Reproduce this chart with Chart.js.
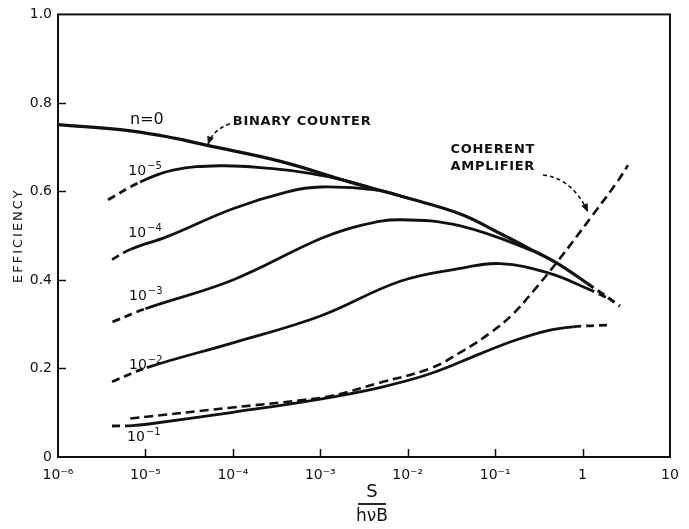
<!DOCTYPE html>
<html><head><meta charset="utf-8">
<script src="https://cdn.jsdelivr.net/npm/chart.js@4"></script>
<style>html,body{margin:0;padding:0;background:#fff}canvas{display:block}</style>
</head><body>
<canvas id="c" width="689" height="529"></canvas>
<script>
// ---- axis ticks ----
const xTicks = [1e-6, 1e-5, 1e-4, 1e-3, 1e-2, 1e-1, 1, 10];
const xTickLabels = ['10⁻⁶', '10⁻⁵', '10⁻⁴', '10⁻³', '10⁻²', '10⁻¹', '1', '10'];
const yTicks = [0, 0.2, 0.4, 0.6, 0.8, 1.0];
const yTickLabels = ['0', '0.2', '0.4', '0.6', '0.8', '1.0'];

// ---- series (x = S/hνB, y = efficiency) ----
const n0X = [1e-6, 6.7e-6, 2.2e-5, 5.1e-5, 3.5e-4, 2.2e-3, 1e-2, 4e-2, 0.114, 0.30, 0.51, 1.12, 2.68];
const n0Y = [0.751, 0.737, 0.720, 0.704, 0.668, 0.621, 0.585, 0.549, 0.505, 0.462, 0.438, 0.393, 0.341];

const n5X = [3.73e-6, 8.67e-6, 2.07e-5, 7.1e-5, 2.66e-4, 7.6e-4, 1.9e-3, 4.5e-3];
const n5Y = [0.581, 0.621, 0.648, 0.658, 0.652, 0.641, 0.625, 0.603];

const n4X = [4.15e-6, 6.7e-6, 1.77e-5, 1e-4, 4.2e-4, 1e-3, 4.5e-3, 1e-2];
const n4Y = [0.446, 0.469, 0.498, 0.561, 0.599, 0.610, 0.603, 0.585];

const n3X = [4.2e-6, 1e-5, 1e-4, 1e-3, 3e-3, 8.2e-3, 4e-2, 0.30, 0.51];
const n3Y = [0.305, 0.335, 0.400, 0.493, 0.524, 0.536, 0.522, 0.462, 0.438];

const n2X = [4.15e-6, 1.04e-5, 1e-4, 9.9e-4, 8.2e-3, 0.04, 0.114, 0.42, 1.12, 1.9];
const n2Y = [0.170, 0.202, 0.258, 0.318, 0.397, 0.426, 0.437, 0.415, 0.381, 0.360];

const n1X = [4.15e-6, 7e-6, 1.04e-5, 1e-4, 1e-3, 4.8e-3, 1.8e-2, 6.7e-2, 0.16, 0.39, 0.78, 1.9];
const n1Y = [0.070, 0.071, 0.074, 0.101, 0.131, 0.157, 0.188, 0.233, 0.262, 0.285, 0.294, 0.298];

const cohX = [6.7e-6, 1e-4, 5.9e-4, 1.4e-3, 4.8e-3, 1.8e-2, 4.29e-2, 8.73e-2, 0.16, 0.271, 0.509, 1.31, 2.48, 3.30];
const cohY = [0.087, 0.112, 0.128, 0.139, 0.168, 0.200, 0.240, 0.280, 0.323, 0.374, 0.440, 0.547, 0.621, 0.659];

// ---- annotation texts (anchored in data space) ----
const curveLabels = [
  {base: '10', exp: '−5', x: 9.9e-6, y: 0.638},
  {base: '10', exp: '−4', x: 9.9e-6, y: 0.496},
  {base: '10', exp: '−3', x: 1.01e-5, y: 0.355},
  {base: '10', exp: '−2', x: 1.01e-5, y: 0.198},
  {base: '10', exp: '−1', x: 9.6e-6, y: 0.037}
];
const nZeroLabel = {text: 'n=0', x: 1.04e-5, y: 0.762};
const noteLabels = [
  {text: 'BINARY COUNTER', x: 1.0e-4, y: 0.758, align: 'left'},
  {text: 'COHERENT', x: 0.094, y: 0.695, align: 'center'},
  {text: 'AMPLIFIER', x: 0.094, y: 0.657, align: 'center'}
];
const arrows = [
  {from: [9.27e-5, 0.753], ctrl: [5.93e-5, 0.740], to: [5.2e-5, 0.706]},
  {from: [0.352, 0.637], ctrl: [0.757, 0.630], to: [1.15, 0.554]}
];

const INK = '#111';
const FONT = '"DejaVu Sans", sans-serif';

function pts(xs, ys) { return xs.map((v, i) => ({x: v, y: ys[i]})); }
function line(xs, ys, head, tail, width) {
  const n = xs.length;
  return {
    data: pts(xs, ys),
    borderColor: INK,
    borderWidth: width,
    segment: {
      borderDash: ctx => (ctx.p0DataIndex < head || ctx.p0DataIndex >= n - 1 - tail) ? [8, 5] : undefined
    }
  };
}

const datasets = [
  line(n0X, n0Y, 0, 1, 3.2),
  line(n5X, n5Y, 1, 0, 2.8),
  line(n4X, n4Y, 1, 0, 2.8),
  line(n3X, n3Y, 1, 0, 2.8),
  line(n2X, n2Y, 1, 1, 2.8),
  line(n1X, n1Y, 1, 1, 2.8),
  {data: pts(cohX, cohY), borderColor: INK, borderWidth: 2.6, borderDash: [9, 5]}
];

const decor = {
  id: 'decor',
  afterDraw(chart) {
    const {ctx, chartArea: a, scales: {x, y}} = chart;
    ctx.save();
    ctx.strokeStyle = INK; ctx.fillStyle = INK;
    ctx.lineWidth = 2;
    ctx.strokeRect(a.left, a.top, a.right - a.left, a.bottom - a.top);
    ctx.lineWidth = 1.5;
    xTicks.slice(1, -1).forEach(v => {
      const px = Math.round(x.getPixelForValue(v)) + 0.5;
      ctx.beginPath(); ctx.moveTo(px, a.bottom); ctx.lineTo(px, a.bottom - 8); ctx.stroke();
    });
    yTicks.slice(1, -1).forEach(v => {
      const py = Math.round(y.getPixelForValue(v)) + 0.5;
      ctx.beginPath(); ctx.moveTo(a.left, py); ctx.lineTo(a.left + 8, py); ctx.stroke();
    });

    // curve labels: base + raised exponent
    ctx.textBaseline = 'alphabetic';
    ctx.textAlign = 'left';
    curveLabels.forEach(l => {
      ctx.font = '14px ' + FONT;
      const wb = ctx.measureText(l.base).width;
      ctx.font = '10px ' + FONT;
      const we = ctx.measureText(l.exp).width;
      const cx = x.getPixelForValue(l.x), by = y.getPixelForValue(l.y);
      const left = cx - (wb + we + 1) / 2;
      ctx.font = '14px ' + FONT;
      ctx.fillText(l.base, left, by);
      ctx.font = '10px ' + FONT;
      ctx.fillText(l.exp, left + wb + 1, by - 6);
    });
    ctx.textBaseline = 'middle';
    ctx.textAlign = 'center';
    ctx.font = '16px ' + FONT;
    ctx.fillText(nZeroLabel.text, x.getPixelForValue(nZeroLabel.x), y.getPixelForValue(nZeroLabel.y));
    ctx.font = 'bold 13px ' + FONT;
    ctx.letterSpacing = '0.7px';
    noteLabels.forEach(l => {
      ctx.textAlign = l.align;
      ctx.fillText(l.text, x.getPixelForValue(l.x), y.getPixelForValue(l.y));
    });
    ctx.letterSpacing = '0px';

    // dashed arrows
    arrows.forEach(ar => {
      const p0 = [x.getPixelForValue(ar.from[0]), y.getPixelForValue(ar.from[1])];
      const pc = [x.getPixelForValue(ar.ctrl[0]), y.getPixelForValue(ar.ctrl[1])];
      const p1 = [x.getPixelForValue(ar.to[0]), y.getPixelForValue(ar.to[1])];
      ctx.setLineDash([4, 3]); ctx.lineWidth = 1.6;
      ctx.beginPath(); ctx.moveTo(p0[0], p0[1]); ctx.quadraticCurveTo(pc[0], pc[1], p1[0], p1[1]); ctx.stroke();
      ctx.setLineDash([]);
      const ang = Math.atan2(p1[1] - pc[1], p1[0] - pc[0]);
      const L = 8, W = 3.5;
      ctx.beginPath();
      ctx.moveTo(p1[0], p1[1]);
      ctx.lineTo(p1[0] - L * Math.cos(ang) + W * Math.sin(ang), p1[1] - L * Math.sin(ang) - W * Math.cos(ang));
      ctx.lineTo(p1[0] - L * Math.cos(ang) - W * Math.sin(ang), p1[1] - L * Math.sin(ang) + W * Math.cos(ang));
      ctx.closePath(); ctx.fill();
    });

    // y title
    ctx.save();
    ctx.translate(19, (a.top + a.bottom) / 2);
    ctx.rotate(-Math.PI / 2);
    ctx.textAlign = 'center'; ctx.textBaseline = 'middle';
    ctx.font = '13px ' + FONT;
    ctx.letterSpacing = '2px';
    ctx.fillText('EFFICIENCY', 0, 0);
    ctx.letterSpacing = '0px';
    ctx.restore();

    // x title as fraction
    const cx = (a.left + a.right) / 2 + 8;
    ctx.textAlign = 'center'; ctx.textBaseline = 'middle';
    ctx.font = '18px ' + FONT;
    ctx.fillText('S', cx, a.bottom + 35);
    ctx.lineWidth = 1.8;
    ctx.beginPath(); ctx.moveTo(cx - 14, a.bottom + 47); ctx.lineTo(cx + 14, a.bottom + 47); ctx.stroke();
    ctx.font = '17px ' + FONT;
    ctx.fillText('hνB', cx, a.bottom + 60);
    ctx.restore();
  }
};

new Chart(document.getElementById('c'), {
  type: 'line',
  data: {datasets},
  options: {
    responsive: false, animation: false, devicePixelRatio: 1,
    layout: {padding: {top: 11, right: 19, left: 0, bottom: 0}},
    plugins: {legend: {display: false}, tooltip: {enabled: false}},
    elements: {point: {radius: 0}, line: {tension: 0.4, borderCapStyle: 'butt', fill: false}},
    scales: {
      x: {
        type: 'logarithmic', min: 1e-6, max: 10,
        grid: {display: false, drawTicks: false}, border: {display: false},
        afterBuildTicks: s => { s.ticks = xTicks.map(v => ({value: v})); },
        afterFit: s => { s.height = 72; },
        ticks: {autoSkip: false, maxRotation: 0, padding: 10, color: INK,
          font: {family: FONT, size: 14}, callback: (v, i) => xTickLabels[i]}
      },
      y: {
        min: 0, max: 1,
        grid: {display: false, drawTicks: false}, border: {display: false},
        afterBuildTicks: s => { s.ticks = yTicks.map(v => ({value: v})); },
        afterFit: s => { s.width = 58; },
        ticks: {padding: 6, color: INK, font: {family: FONT, size: 14}, callback: (v, i) => yTickLabels[i]}
      }
    }
  },
  plugins: [decor]
});
</script>
</body></html>
